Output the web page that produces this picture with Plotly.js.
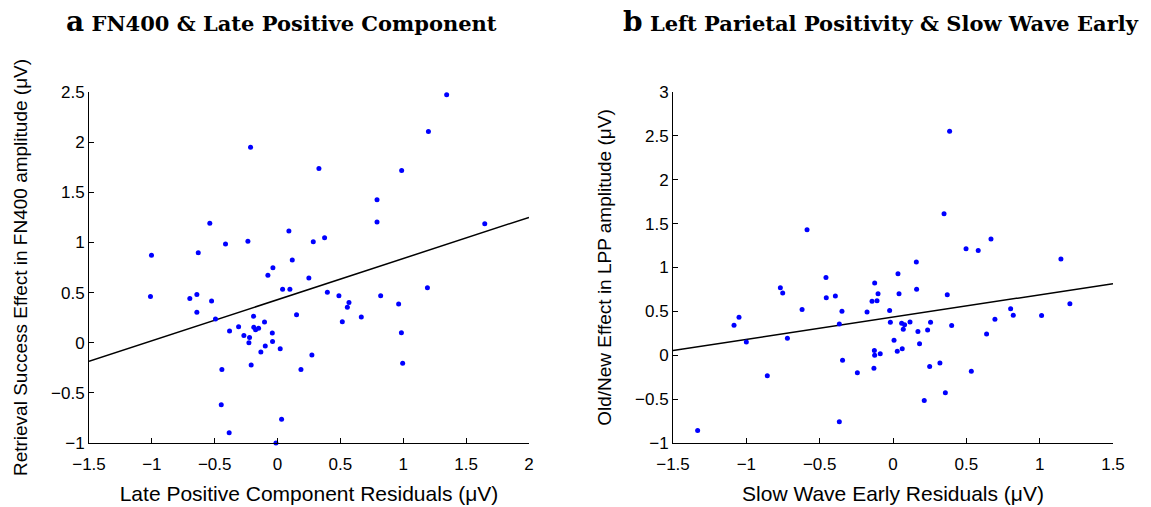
<!DOCTYPE html>
<html>
<head>
<meta charset="utf-8">
<script src="https://cdn.plot.ly/plotly-3.0.1.min.js"></script>
<style>html,body{margin:0;padding:0;background:#fff;}#chart{width:1151px;height:507px;}</style>
</head>
<body>
<div id="chart"></div>
<script>
// Panel a: FN400 & Late Positive Component
const aX = [-0.215,-0.539,-1.003,-0.631,-0.414,-0.236,0.09,0.117,-0.037,
  1.345,1.2,0.329,0.987,0.791,0.791,1.648,0.284,0.374,
  -0.077,0.249,-1.011,-0.698,-0.642,-0.525,0.04,0.098,-0.642,-0.494,-0.191,0.151,
  -0.382,-0.31,-0.268,-0.223,-0.228,-0.189,-0.175,-0.151,-0.104,-0.042,-0.04,-0.098,
  -0.133,0.021,-0.21,-0.443,0.186,-0.448,0.032,-0.385,-0.013,
  0.396,0.488,0.568,0.555,0.82,0.963,1.192,0.666,0.515,0.985,0.273,0.995];
const aY = [1.948,1.19,0.871,0.898,0.985,1.011,1.114,0.825,0.748,
  2.473,2.107,1.738,1.718,1.426,1.204,1.187,1.007,1.047,
  0.672,0.646,0.462,0.442,0.482,0.416,0.532,0.532,0.303,0.237,0.263,0.28,
  0.117,0.16,0.073,0.053,0.0,0.153,0.13,0.143,0.207,0.097,0.013,-0.032,
  -0.092,-0.059,-0.222,-0.266,-0.266,-0.618,-0.764,-0.897,-1.0,
  0.502,0.469,0.402,0.353,0.469,0.386,0.549,0.257,0.21,0.1,-0.122,-0.206];
const aFitX = [-1.5, 2];
const aFitY = [-0.186, 1.25];

// Panel b: Left Parietal Positivity & Slow Wave Early
const bX = [-0.586,0.386,0.348,0.668,0.498,0.581,0.159,1.145,
  -0.457,-0.768,-0.752,-0.125,-0.102,-0.455,-0.393,-0.143,-0.109,-0.62,-0.348,-0.177,
  -1.05,-1.084,-0.366,-0.72,-1.0,-0.127,-0.125,-0.087,-0.344,-0.13,-0.243,-0.857,-0.366,-1.332,
  0.034,0.041,0.161,0.37,-0.023,1.206,0.802,0.82,1.013,0.695,-0.018,0.059,0.079,0.116,
  0.256,0.4,0.07,0.17,0.236,0.638,0.181,0.007,0.029,0.063,0.25,0.32,0.534,0.357,0.213];
const bY = [1.43,2.553,1.612,1.324,1.214,1.195,1.063,1.097,
  0.887,0.77,0.71,0.824,0.702,0.656,0.676,0.614,0.622,0.52,0.501,0.494,
  0.432,0.341,0.357,0.193,0.152,0.053,0.0,0.016,-0.057,-0.148,-0.2,-0.234,-0.758,-0.857,
  0.929,0.702,0.751,0.69,0.509,0.588,0.531,0.455,0.452,0.41,0.375,0.364,0.349,0.38,
  0.375,0.338,0.296,0.27,0.289,0.243,0.13,0.171,0.046,0.073,-0.129,-0.087,-0.182,-0.428,-0.515];
const bFitX = [-1.5, 1.5];
const bFitY = [0.053, 0.816];

const aXTicks = [-1.5,-1,-0.5,0,0.5,1,1.5,2];
const aYTicks = [-1,-0.5,0,0.5,1,1.5,2,2.5];
const bXTicks = [-1.5,-1,-0.5,0,0.5,1,1.5];
const bYTicks = [-1,-0.5,0,0.5,1,1.5,2,2.5,3];

const W = 1151;
const dot = {color:'#0000ff', size:5};
const fitLine = {color:'#000000', width:1.5};

const traces = [
  {x:aFitX, y:aFitY, mode:'lines', line:fitLine, xaxis:'x', yaxis:'y', hoverinfo:'skip'},
  {x:aX, y:aY, mode:'markers', marker:dot, xaxis:'x', yaxis:'y', cliponaxis:false},
  {x:bFitX, y:bFitY, mode:'lines', line:fitLine, xaxis:'x2', yaxis:'y2', hoverinfo:'skip'},
  {x:bX, y:bY, mode:'markers', marker:dot, xaxis:'x2', yaxis:'y2', cliponaxis:false}
];

const tickFont = {family:'Liberation Sans, Arial, sans-serif', size:17, color:'#000'};
const xTitleFont = {family:'Liberation Sans, Arial, sans-serif', size:21, color:'#000'};
const yTitleFont = {family:'Liberation Sans, Arial, sans-serif', size:19, color:'#000'};

function axis(range, ticks, domain, anchor, title, font, standoff, labelGap){
  return {
    range: range, domain: domain, anchor: anchor,
    tickmode:'array', tickvals: ticks,
    ticks:'inside', ticklen:5, tickwidth:1, tickcolor:'#000',
    ticklabelstandoff: labelGap,
    showline:true, linecolor:'#000', linewidth:1, mirror:false,
    showgrid:false, zeroline:false,
    tickfont: tickFont,
    title:{text:title, font:font, standoff:standoff},
    automargin:false, fixedrange:true
  };
}

const layout = {
  width:1151, height:507,
  margin:{l:0, r:0, t:92.3, b:63.7},
  paper_bgcolor:'#fff', plot_bgcolor:'#fff',
  showlegend:false,
  xaxis: axis([-1.5,2], aXTicks, [89/W, 529/W], 'y', 'Late Positive Component Residuals (\u03bcV)', xTitleFont, 12, 6),
  yaxis: axis([-1,2.5], aYTicks, [0,1], 'x', 'Retrieval Success Effect in FN400 amplitude (\u03bcV)', yTitleFont, 18, 0),
  xaxis2: axis([-1.5,1.5], bXTicks, [673/W, 1113/W], 'y2', 'Slow Wave Early Residuals (\u03bcV)', xTitleFont, 12, 6),
  yaxis2: axis([-1,3], bYTicks, [0,1], 'x2', 'Old/New Effect in LPP amplitude (\u03bcV)', yTitleFont, 18, 0),
  annotations:[
    {xref:'paper', yref:'paper', x:281/W, y:1, yshift:71, xanchor:'center', yanchor:'middle', showarrow:false,
     text:'<b><span style="font-size:28px">a</span> FN400 &amp; Late Positive Component</b>',
     font:{family:'DejaVu Serif, Liberation Serif, serif', size:21, color:'#000'}},
    {xref:'paper', yref:'paper', x:881/W, y:1, yshift:71, xanchor:'center', yanchor:'middle', showarrow:false,
     text:'<b><span style="font-size:28px">b</span> Left Parietal Positivity &amp; Slow Wave Early</b>',
     font:{family:'DejaVu Serif, Liberation Serif, serif', size:21, color:'#000'}}
  ]
};

Plotly.newPlot('chart', traces, layout, {staticPlot:true, displayModeBar:false});
</script>
</body>
</html>
